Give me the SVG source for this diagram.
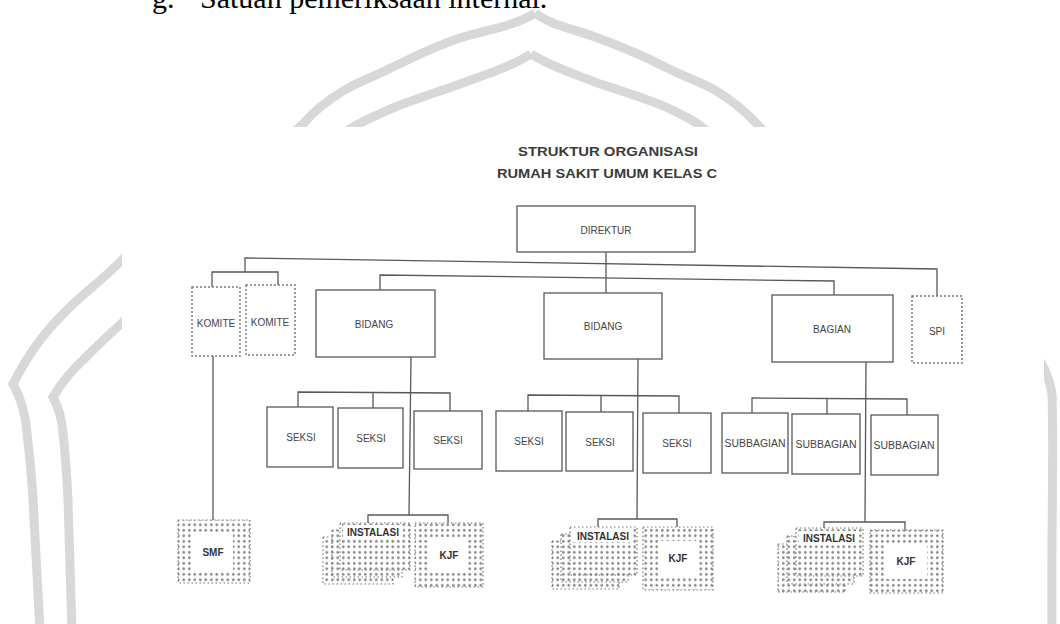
<svg xmlns="http://www.w3.org/2000/svg" width="1060" height="624" viewBox="0 0 1060 624">
<style>
.wm{fill:none;stroke:#d8d8d8;stroke-width:9;stroke-linejoin:miter}
.box{fill:#fff;stroke:#585858;stroke-width:1.3}
.dash{fill:#fff;stroke:#7a7a7a;stroke-width:1.5;stroke-dasharray:2 2}
.ln{fill:none;stroke:#585858;stroke-width:1.3}
.lbl{font-family:"Liberation Sans",Arial,sans-serif;font-size:10px;fill:#444;text-anchor:middle;dominant-baseline:central}
.blbl{font-family:"Liberation Sans",Arial,sans-serif;font-size:10px;font-weight:bold;fill:#333;text-anchor:middle;dominant-baseline:central}
.ttl{font-family:"Liberation Sans",Arial,sans-serif;font-size:13px;font-weight:bold;fill:#3a3a3a;text-anchor:middle}
.hat{fill:url(#dots);stroke:#777;stroke-width:1.2;stroke-dasharray:1.5 2.5}
.doc{font-family:"Liberation Serif","Times New Roman",serif;font-size:30px;fill:#000}
</style>
<defs>
<pattern id="dots" width="5.5" height="5.5" patternUnits="userSpaceOnUse">
<rect width="5.5" height="5.5" fill="#fff"/>
<rect x="1" y="1.6" width="2.6" height="1.4" fill="#6a6a6a"/>
<rect x="1.6" y="0.8" width="1.2" height="3" fill="#8a8a8a"/>
</pattern>
</defs>
<rect width="1060" height="624" fill="#fff"/>
<g id="document-text">
<text class="doc" x="152" y="8">g.</text>
<text class="doc" x="200" y="8">Satuan pemeriksaan internal.</text>
</g>
<g id="watermark">
<path class="wm" d="M535,13 C515,26 490,29 460,38 C430,48 412,58 393,67 C373,77 358,82 343,91 C325,102 313,112 303,124 C270,155 170,210 122,260 C100,282 85,292 67,310 C50,327 33,345 13,384 C22,400 26,420 27,433 C30,460 32,480 33,500 C36,560 38,600 40,630"/>
<path class="wm" d="M535,13 C552,26 575,29 598,38 C625,48 648,58 665,67 C685,77 700,82 715,90 C733,101 746,112 757,124 C800,170 900,230 985,300 C1020,330 1048,360 1052,395 C1054,450 1051,540 1052,630"/>
<path class="wm" d="M531,54 C512,66 488,74 460,84 C435,93 412,100 393,108 C375,116 360,122 347,131 C300,170 180,270 122,323 C105,338 95,348 83,360 C70,372 62,382 53,397 C60,410 62,420 63,433 C66,460 67,480 68,500 C70,560 71,600 72,630"/>
<path class="wm" d="M531,54 C550,66 574,74 600,84 C628,93 650,100 668,108 C685,116 697,122 707,131"/>
</g>
<rect id="scan" x="122" y="127" width="922" height="497" fill="#fff"/>
<g id="title">
<text class="ttl" x="608" y="156" textLength="180" lengthAdjust="spacingAndGlyphs">STRUKTUR  ORGANISASI</text>
<text class="ttl" x="607" y="178" textLength="220" lengthAdjust="spacingAndGlyphs">RUMAH SAKIT UMUM KELAS C</text>
</g>
<g id="connectors">
<path class="ln" d="M606,252 V293"/>
<path class="ln" d="M245,272 V258 L937,269 V296"/>
<path class="ln" d="M212,287 V272 H278 V285"/>
<path class="ln" d="M380,290 V275 L834,281 V295"/>
<path class="ln" d="M213,356 V520"/>
<path class="ln" d="M411,357 L409,515"/>
<path class="ln" d="M638,359 L637,519"/>
<path class="ln" d="M866,362 L865,522"/>
<path class="ln" d="M298,407 V392 L450,393 V411 M373,392 V408"/>
<path class="ln" d="M528,411 V395 L679,396 V413 M601,395 V412"/>
<path class="ln" d="M752,413 V398 L907,399 V415 M827,398 V414"/>
<path class="ln" d="M368,523 V515 H448 V523"/>
<path class="ln" d="M598,527 V519 H677 V527"/>
<path class="ln" d="M824,528 V522 H905 V530"/>
</g>
<g id="direktur"><rect class="box" x="517" y="206" width="178" height="46"/><text class="lbl" x="606" y="230" font-size="9.5">DIREKTUR</text></g>
<g id="komite1"><rect class="dash" x="192" y="287" width="48" height="69"/><text class="lbl" x="216" y="323" font-size="9">KOMITE</text></g>
<g id="komite2"><rect class="dash" x="246" y="285" width="49" height="70"/><text class="lbl" x="270" y="322" font-size="9">KOMITE</text></g>
<g id="bidang1"><rect class="box" x="316" y="290" width="119" height="67"/><text class="lbl" x="374" y="324">BIDANG</text></g>
<g id="bidang2"><rect class="box" x="544" y="293" width="118" height="66"/><text class="lbl" x="603" y="326">BIDANG</text></g>
<g id="bagian"><rect class="box" x="772" y="295" width="121" height="67"/><text class="lbl" x="832" y="329">BAGIAN</text></g>
<g id="spi"><rect class="dash" x="912" y="296" width="50" height="67"/><text class="lbl" x="937" y="331">SPI</text></g>
<g id="seksi1"><rect class="box" x="267" y="407" width="66" height="60"/><text class="lbl" x="301" y="437">SEKSI</text></g>
<g id="seksi2"><rect class="box" x="338" y="408" width="65" height="60"/><text class="lbl" x="371" y="438">SEKSI</text></g>
<g id="seksi3"><rect class="box" x="414" y="411" width="68" height="58"/><text class="lbl" x="448" y="440">SEKSI</text></g>
<g id="seksi4"><rect class="box" x="496" y="411" width="66" height="60"/><text class="lbl" x="529" y="441">SEKSI</text></g>
<g id="seksi5"><rect class="box" x="566" y="412" width="67" height="59"/><text class="lbl" x="600" y="442">SEKSI</text></g>
<g id="seksi6"><rect class="box" x="643" y="413" width="68" height="60"/><text class="lbl" x="677" y="443">SEKSI</text></g>
<g id="subbagian1"><rect class="box" x="722" y="413" width="66" height="60"/><text class="lbl" x="755" y="443" textLength="61" lengthAdjust="spacingAndGlyphs">SUBBAGIAN</text></g>
<g id="subbagian2"><rect class="box" x="792" y="414" width="68" height="60"/><text class="lbl" x="826" y="444" textLength="61" lengthAdjust="spacingAndGlyphs">SUBBAGIAN</text></g>
<g id="subbagian3"><rect class="box" x="871" y="415" width="67" height="60"/><text class="lbl" x="904" y="445" textLength="61" lengthAdjust="spacingAndGlyphs">SUBBAGIAN</text></g>
<g id="smf"><rect class="hat" x="178" y="520" width="72" height="63"/><rect x="193" y="532" width="40" height="40" fill="#fff"/><text class="blbl" x="213" y="552">SMF</text></g>
<g id="instalasi1"><rect class="hat" x="323" y="537" width="70" height="47"/><rect class="hat" x="332" y="530" width="70" height="47"/><rect class="hat" x="340" y="523" width="70" height="47"/><rect x="343" y="525" width="60" height="13" fill="#fff"/><text class="blbl" x="373" y="532">INSTALASI</text></g>
<g id="kjf1"><rect class="hat" x="415" y="523" width="68" height="64"/><rect x="430" y="537" width="38" height="36" fill="#fff"/><text class="blbl" x="449" y="555">KJF</text></g>
<g id="instalasi2"><rect class="hat" x="552" y="541" width="67" height="48"/><rect class="hat" x="561" y="534" width="67" height="48"/><rect class="hat" x="570" y="527" width="67" height="48"/><rect x="573" y="529" width="60" height="13" fill="#fff"/><text class="blbl" x="603" y="536">INSTALASI</text></g>
<g id="kjf2"><rect class="hat" x="643" y="527" width="70" height="63"/><rect x="658" y="541" width="40" height="35" fill="#fff"/><text class="blbl" x="678" y="558">KJF</text></g>
<g id="instalasi3"><rect class="hat" x="778" y="544" width="67" height="48"/><rect class="hat" x="787" y="536" width="67" height="48"/><rect class="hat" x="796" y="528" width="67" height="48"/><rect x="799" y="531" width="60" height="13" fill="#fff"/><text class="blbl" x="829" y="538">INSTALASI</text></g>
<g id="kjf3"><rect class="hat" x="870" y="530" width="73" height="63"/><rect x="886" y="544" width="41" height="35" fill="#fff"/><text class="blbl" x="906" y="561">KJF</text></g>
</svg>
